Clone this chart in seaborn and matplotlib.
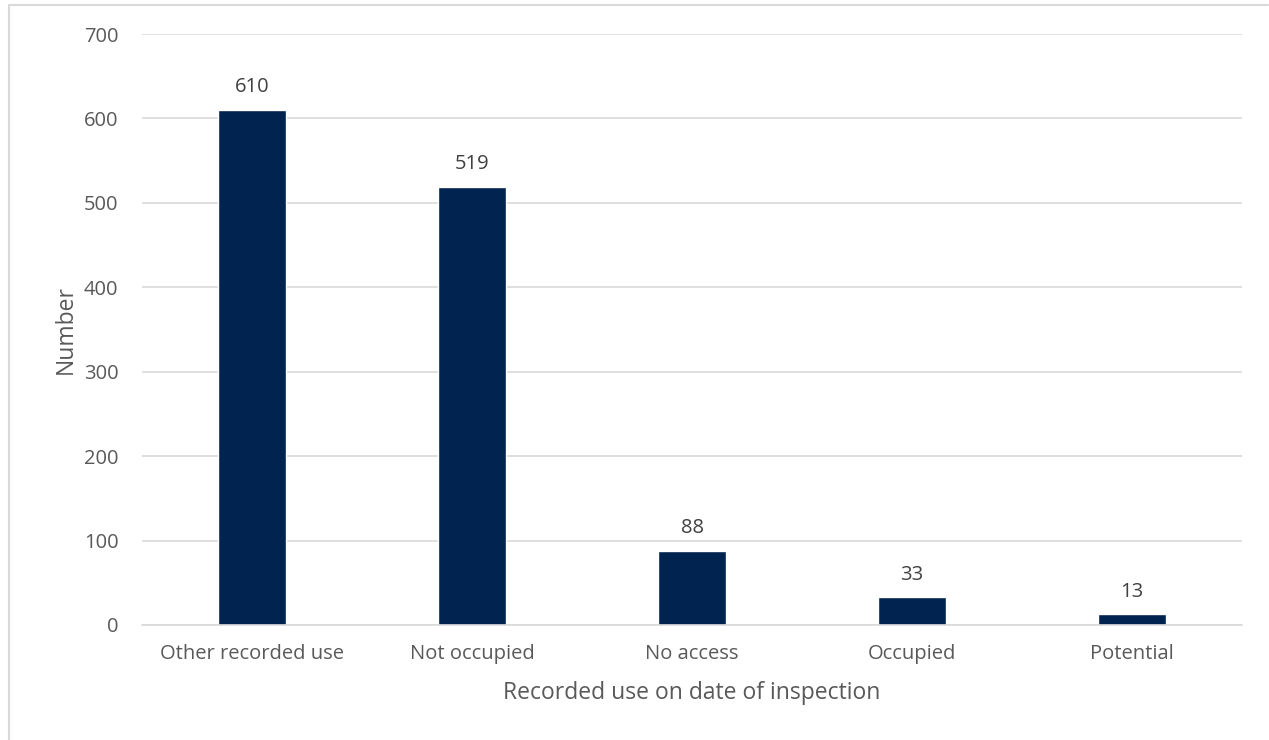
import matplotlib
matplotlib.use("Agg")
import matplotlib.pyplot as plt
from matplotlib.lines import Line2D
import seaborn as sns
import pandas as pd

categories = ["Other recorded use", "Not occupied", "No access", "Occupied", "Potential"]
values = [610, 519, 88, 33, 13]
yticks = [0, 100, 200, 300, 400, 500, 600, 700]

sns.set_theme(style="white")
plt.rcParams['font.family'] = ['Open Sans', 'DejaVu Sans']

TXT = "#595959"
GRID = "#d9d9d9"
W, H = 1269, 740

df = pd.DataFrame({"cat": categories, "val": values})

fig = plt.figure(figsize=(W/100, H/100), dpi=100)
ax = fig.add_axes([142/W, 1-625/H, (1242-142)/W, (625-34)/H])

sns.barplot(data=df, x="cat", y="val", color="#002350", width=0.31, saturation=1, ax=ax)

ax.set_ylim(0, 700)
ax.set_yticks(yticks)
ax.set_xlim(-0.5, len(categories) - 0.5)
ax.yaxis.grid(True, color=GRID, linewidth=1.2)
ax.set_axisbelow(True)
for s in ["top", "right", "left"]:
    ax.spines[s].set_visible(False)
ax.spines["bottom"].set_color(GRID)
ax.spines["bottom"].set_linewidth(1.2)
ax.tick_params(axis="both", length=0, labelsize=14.5, labelcolor=TXT)
ax.tick_params(axis="x", pad=14)
ax.tick_params(axis="y", pad=17)

for c in ax.containers:
    ax.bar_label(c, labels=[str(v) for v in values], padding=9, fontsize=14.5, color="#404040")

ax.set_xlabel("Recorded use on date of inspection", fontsize=16.5, color=TXT, labelpad=12)
ax.set_ylabel("Number", fontsize=16.5, color=TXT, labelpad=4)

fig.add_artist(Line2D([8.5/W, 8.5/W], [0, 1-5/H], transform=fig.transFigure, color=GRID, linewidth=1.5))
fig.add_artist(Line2D([8.5/W, 1268/W], [1-5/H, 1-5/H], transform=fig.transFigure, color=GRID, linewidth=1.5))

fig.savefig("out.png", dpi=100, facecolor="white")
